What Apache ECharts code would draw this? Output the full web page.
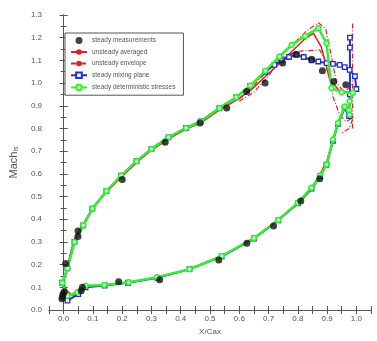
<!DOCTYPE html>
<html><head><meta charset="utf-8">
<script src="https://cdn.jsdelivr.net/npm/echarts@6/dist/echarts.min.js"></script>
<style>html,body{margin:0;padding:0;background:#fff}#c{width:377px;height:341px}</style>
</head><body><div id="c"></div>
<script>
// steady measurements
const measX=[-0.006,-0.002,0.002,-0.004,0.007,0.049,0.049,0.200,0.347,0.466,0.557,0.625,0.688,0.748,0.794,0.847,0.884,0.923,0.964,0.064,0.060,0.188,0.328,0.530,0.626,0.717,0.810,0.875];
const measY=[0.050,0.070,0.080,0.060,0.205,0.348,0.324,0.575,0.739,0.824,0.890,0.963,1.000,1.088,1.127,1.105,1.054,1.007,0.993,0.100,0.085,0.124,0.133,0.220,0.294,0.370,0.480,0.578];
// unsteady averaged
const avgX=[0.975,0.960,0.937,0.900,0.850,0.800,0.730,0.650,0.540,0.430,0.320,0.220,0.140,0.075,0.050,0.030,0.010,0.000,0.012,0.035,0.065,0.100,0.150,0.200,0.250,0.300,0.360,0.420,0.470,0.530,0.590,0.640,0.690,0.740,0.780,0.820,0.853,0.880,0.909,0.940,0.977];
const avgY=[0.860,0.890,0.820,0.660,0.535,0.470,0.395,0.315,0.235,0.180,0.142,0.120,0.110,0.105,0.080,0.065,0.085,0.120,0.190,0.310,0.375,0.450,0.525,0.590,0.650,0.705,0.755,0.798,0.826,0.880,0.925,0.970,1.030,1.090,1.140,1.190,1.220,1.160,1.015,0.970,0.957];
// unsteady envelope (upper, lower, trailing-edge)
const envUpX=[0.600,0.650,0.700,0.750,0.790,0.830,0.870,0.895,0.910,0.932,0.960,0.990];
const envUpY=[0.930,0.990,1.060,1.130,1.180,1.230,1.266,1.240,1.150,1.000,0.960,1.000];
const envLoX=[0.600,0.650,0.700,0.740,0.800,0.875,0.904,0.920,0.943,0.966,0.990,0.975,0.950];
const envLoY=[0.920,0.960,1.030,1.110,1.140,1.146,1.073,0.940,0.860,0.830,0.850,0.800,0.780];
const envTeX=[0.987,0.987];
const envTeY=[1.263,0.800];
// steady mixing plane
const mixX=[0.978,0.978,0.978,0.975,0.960,0.937,0.920,0.898,0.876,0.847,0.800,0.733,0.650,0.540,0.430,0.320,0.220,0.140,0.075,0.050,0.013,-0.005,0.013,0.037,0.067,0.098,0.146,0.196,0.249,0.300,0.358,0.418,0.468,0.532,0.589,0.637,0.689,0.720,0.745,0.770,0.796,0.820,0.847,0.870,0.898,0.920,0.943,0.960,0.977,0.995,1.000];
const mixY=[1.200,1.156,0.950,0.855,0.890,0.820,0.745,0.640,0.590,0.535,0.470,0.395,0.315,0.236,0.180,0.142,0.120,0.108,0.100,0.070,0.041,0.120,0.184,0.300,0.373,0.447,0.524,0.592,0.656,0.710,0.761,0.802,0.831,0.890,0.937,0.988,1.050,1.080,1.100,1.115,1.124,1.115,1.100,1.095,1.088,1.085,1.080,1.070,1.058,1.030,0.974];
// steady deterministic stresses
const detX=[0.975,0.960,0.937,0.920,0.898,0.876,0.847,0.800,0.733,0.650,0.540,0.430,0.319,0.222,0.139,0.075,0.047,0.013,-0.005,0.013,0.037,0.067,0.098,0.146,0.196,0.249,0.300,0.358,0.418,0.468,0.532,0.589,0.637,0.689,0.737,0.779,0.825,0.870,0.898,0.915,0.950,0.988,0.977,0.977];
const detY=[0.880,0.897,0.824,0.751,0.641,0.593,0.539,0.473,0.397,0.317,0.238,0.180,0.144,0.122,0.110,0.107,0.078,0.063,0.120,0.184,0.300,0.373,0.447,0.524,0.592,0.656,0.710,0.761,0.802,0.831,0.890,0.937,0.988,1.054,1.117,1.168,1.208,1.242,1.176,0.978,0.960,0.957,0.920,0.860];
const legendNames=['steady measurements','unsteady averaged','unsteady envelope','steady mixing plane','steady deterministic stresses'];

function pairs(xs,ys){return xs.map((x,i)=>[x,ys[i]]);}
const RED='#e02020', BLUE='#2030d0', GREEN='#33ee33';
const ch=echarts.init(document.getElementById('c'));
const lbl={fontSize:8,color:'#555',fontFamily:'Liberation Sans'};
const axLine={lineStyle:{color:'#555',width:1}};
const envStyle={color:RED,width:1.2,type:[5,2,1,2]};
ch.setOption({
  animation:false,
  backgroundColor:'#fff',
  grid:{left:48,right:6,top:15,bottom:30},
  legend:{
    data:legendNames.map(n=>({name:n})),
    orient:'vertical',left:65,top:33,
    padding:[4,8,4,5],itemGap:4.5,itemWidth:16,itemHeight:7,
    borderColor:'#555',borderWidth:1,backgroundColor:'#fff',
    textStyle:{fontSize:6.5,color:'#555',fontFamily:'Liberation Sans'},
    selectedMode:false
  },
  xAxis:[{
    type:'value',min:-0.05,max:1.05,interval:0.05,position:'bottom',
    name:'X/Cax',nameLocation:'middle',nameGap:18,
    nameTextStyle:{fontSize:8,color:'#555',fontFamily:'Liberation Sans'},
    axisLine:axLine,splitLine:{show:false},
    axisTick:{inside:true,length:4,lineStyle:{color:'#555'}},
    axisLabel:Object.assign({margin:5,formatter:v=>{const k=Math.round(v*100);return (k%10===0&&k>=0&&k<=100)?(k/100).toFixed(1):'';}},lbl)
  },{
    type:'value',min:-0.05,max:1.05,interval:0.05,position:'top',
    axisLine:axLine,splitLine:{show:false},
    axisTick:{inside:true,length:4,lineStyle:{color:'#555'}},
    axisLabel:{show:false}
  }],
  yAxis:[{
    type:'value',min:0,max:1.3,interval:0.1,position:'left',
    name:'{m|Mach}{s|is}',nameLocation:'middle',nameGap:28,nameRotate:90,
    nameTextStyle:{rich:{m:{fontSize:11,color:'#555',fontFamily:'Liberation Sans'},s:{fontSize:7,color:'#555',fontFamily:'Liberation Sans',padding:[6,0,0,0]}}},
    axisLine:axLine,splitLine:{show:false},
    axisTick:{inside:true,length:4,lineStyle:{color:'#555'}},
    minorTick:{show:true,splitNumber:2,length:3,lineStyle:{color:'#555'}},
    axisLabel:Object.assign({margin:7,formatter:v=>v.toFixed(1)},lbl)
  },{
    type:'value',min:0,max:1.3,interval:0.1,position:'right',
    axisLine:axLine,splitLine:{show:false},
    axisTick:{inside:true,length:4,lineStyle:{color:'#555'}},
    minorTick:{show:true,splitNumber:2,length:3,lineStyle:{color:'#555'}},
    axisLabel:{show:false}
  }],
  series:[
    {name:legendNames[1],type:'line',data:pairs(avgX,avgY),showSymbol:false,symbol:'none',lineStyle:{color:RED,width:1.5},itemStyle:{color:RED},z:2},
    {name:legendNames[2],type:'line',data:pairs(envUpX,envUpY),symbol:'none',lineStyle:envStyle,itemStyle:{color:RED},z:2},
    {name:legendNames[2],type:'line',data:pairs(envLoX,envLoY),symbol:'none',lineStyle:envStyle,itemStyle:{color:RED},z:2},
    {name:legendNames[2],type:'line',data:pairs(envTeX,envTeY),symbol:'none',lineStyle:envStyle,itemStyle:{color:RED},z:2},
    {name:legendNames[3],type:'line',data:pairs(mixX,mixY),symbol:'rect',symbolSize:4.5,showAllSymbol:true,lineStyle:{color:BLUE,width:2},itemStyle:{color:'#fff',borderColor:BLUE,borderWidth:1.3},z:3},
    {name:legendNames[4],type:'line',data:pairs(detX,detY),symbol:'circle',symbolSize:5,showAllSymbol:true,lineStyle:{color:GREEN,width:2.5},itemStyle:{color:'#bfffbf',borderColor:GREEN,borderWidth:1.5},z:4},
    {name:legendNames[0],type:'scatter',data:pairs(measX,measY),symbol:'circle',symbolSize:7,itemStyle:{color:'#111'},z:5}
  ]
});
</script>
</body></html>
